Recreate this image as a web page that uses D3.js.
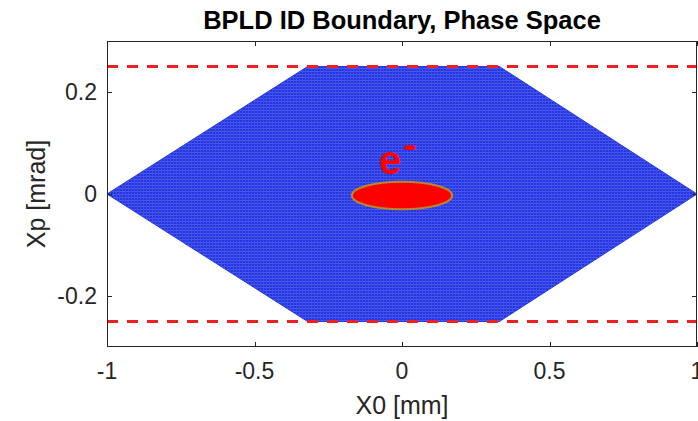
<!DOCTYPE html>
<html><head><meta charset="utf-8">
<script src="https://cdn.jsdelivr.net/npm/d3@7"></script>
<style>body{margin:0;background:#fff;}svg{display:block;font-family:"Liberation Sans",Arial,Helvetica,sans-serif;}</style>
</head><body>
<svg id="c" width="698" height="421"></svg>
<script>
// ---- data ----
const title = "BPLD ID Boundary, Phase Space";
const xLabel = "X0 [mm]";
const yLabel = "Xp [mrad]";
const xDomain = [-1, 1];
const yDomain = [-0.3, 0.3];
const xTicks = [-1, -0.5, 0, 0.5, 1];
const yTicks = [-0.2, 0, 0.2];
const boundaryX = [-1, -0.32, 0.33, 1, 0.33, -0.32];
const boundaryY = [0, 0.25, 0.25, 0, -0.25, -0.25];
const limitLevels = [0.25, -0.25];
const beamCenter = [0, -0.003];
const beamRadii = [0.17, 0.027];
const labelPos = [-0.078, 0.039];

// ---- layout ----
const svg = d3.select("#c");
const L = 107, R = 697, T = 41, B = 347;
const x = d3.scaleLinear().domain(xDomain).range([L, R]);
const y = d3.scaleLinear().domain(yDomain).range([B, T]);
const axisCol = "#262626";

const defs = svg.append("defs");
const pat = defs.append("pattern").attr("id","hex").attr("patternUnits","userSpaceOnUse")
  .attr("width",3).attr("height",3);
pat.append("rect").attr("width",3).attr("height",3).attr("fill","#2535e4");
pat.append("rect").attr("y",2).attr("width",3).attr("height",1).attr("fill","#4a5aea");
pat.append("rect").attr("x",2).attr("width",1).attr("height",3).attr("fill","#3d4de8");
defs.append("clipPath").attr("id","clip").append("rect")
  .attr("x",L).attr("y",T).attr("width",R-L).attr("height",B-T);

const g = svg.append("g").attr("clip-path","url(#clip)");

// boundary hexagon
const pts = boundaryX.map((v,i)=>[x(v), y(boundaryY[i])]);
g.append("path").attr("d", d3.line()(pts) + "Z")
  .attr("fill","url(#hex)").attr("stroke","#2a3ae6").attr("stroke-width",1);

// dashed limits
g.selectAll("line.lim").data(limitLevels).join("line").attr("class","lim")
  .attr("x1", x(xDomain[0])).attr("x2", x(xDomain[1]))
  .attr("y1", d=>y(d)).attr("y2", d=>y(d))
  .attr("stroke","#f02020").attr("stroke-width",3).attr("stroke-dasharray","11 9");

// beam ellipse
g.append("ellipse")
  .attr("cx", x(beamCenter[0])).attr("cy", y(beamCenter[1]))
  .attr("rx", x(beamRadii[0]) - x(0)).attr("ry", y(0) - y(beamRadii[1]))
  .attr("fill","#ff0000").attr("stroke","#b8862e").attr("stroke-width",2);

// e- label
const t = g.append("text").attr("x", x(labelPos[0])).attr("y", y(labelPos[1]))
  .attr("fill","#ff0000").attr("font-size",40).attr("font-weight","bold");
t.append("tspan").text("e");
t.append("tspan").attr("dx",2).attr("dy",-16).attr("font-size",40).text("-");

// axes box
svg.append("rect").attr("x",L+0.5).attr("y",T+0.5).attr("width",R-L-1).attr("height",B-T-1)
  .attr("fill","none").attr("stroke",axisCol).attr("stroke-width",1);

const tl = 5;
xTicks.forEach(v=>{
  const px = Math.round(x(v))+0.5;
  svg.append("line").attr("x1",px).attr("x2",px).attr("y1",B).attr("y2",B-tl).attr("stroke",axisCol);
  svg.append("line").attr("x1",px).attr("x2",px).attr("y1",T).attr("y2",T+tl).attr("stroke",axisCol);
});
yTicks.forEach(v=>{
  const py = Math.round(y(v))+0.5;
  svg.append("line").attr("y1",py).attr("y2",py).attr("x1",L).attr("x2",L+tl).attr("stroke",axisCol);
  svg.append("line").attr("y1",py).attr("y2",py).attr("x1",R).attr("x2",R-tl).attr("stroke",axisCol);
});

const fmt = d=> d===0 ? "0" : String(d);
svg.selectAll("text.xt").data(xTicks).join("text").attr("class","xt")
  .attr("x", d=>x(d)).attr("y", 379).attr("text-anchor","middle")
  .attr("font-size",23).attr("fill",axisCol).text(fmt);
svg.selectAll("text.yt").data(yTicks).join("text").attr("class","yt")
  .attr("x", 97).attr("y", d=>y(d)).attr("dy","0.35em").attr("text-anchor","end")
  .attr("font-size",23).attr("fill",axisCol).text(fmt);

svg.append("text").attr("x", (L+R)/2).attr("y", 414).attr("text-anchor","middle")
  .attr("font-size",25).attr("fill",axisCol).text(xLabel);
svg.append("text").attr("transform",`translate(45,${(T+B)/2}) rotate(-90)`)
  .attr("text-anchor","middle").attr("font-size",25).attr("fill",axisCol).text(yLabel);
svg.append("text").attr("x", (L+R)/2).attr("y", 29).attr("text-anchor","middle")
  .attr("font-size",25.5).attr("font-weight","bold").attr("fill","#000").text(title);
</script>
</body></html>
